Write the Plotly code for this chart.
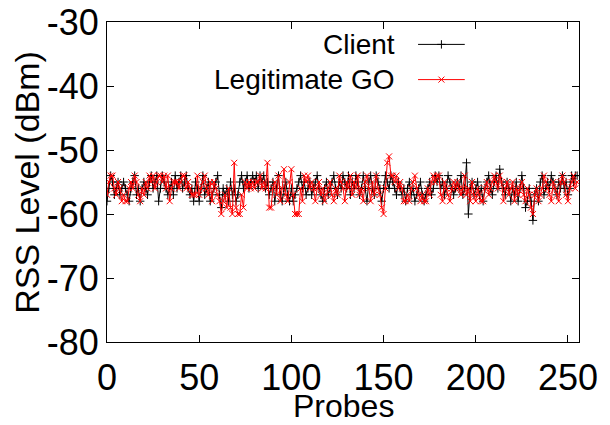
import plotly.graph_objects as go

probes = list(range(256))

client = [
    -58, -56, -54, -55, -57, -56, -55, -57, -56, -55,
    -56, -57, -58, -56, -55, -54, -57, -56, -58, -56,
    -55, -56, -57, -55, -54, -56, -55, -54, -58, -56,
    -54, -55, -56, -57, -56, -55, -57, -54, -56, -55,
    -54, -56, -55, -54, -56, -57, -56, -58, -55, -56,
    -58, -56, -54, -57, -56, -55, -58, -57, -56, -55,
    -54, -57, -59, -56, -57, -56, -58, -55, -57, -56,
    -58, -57, -55, -54, -56, -55, -54, -56, -55, -54,
    -55, -54, -56, -54, -55, -54, -56, -55, -57, -56,
    -55, -58, -56, -54, -57, -58, -56, -55, -57, -58,
    -56, -58, -57, -56, -55, -54, -56, -55, -57, -56,
    -55, -57, -56, -55, -54, -56, -57, -58, -56, -55,
    -57, -56, -55, -54, -56, -57, -55, -56, -54, -55,
    -56, -54, -57, -55, -56, -54, -55, -57, -56, -54,
    -56, -58, -55, -54, -56, -57, -54, -55, -56, -58,
    -56, -54, -55, -56, -54, -55, -56, -57, -55, -56,
    -57, -56, -58, -56, -55, -57, -56, -58, -57, -56,
    -55, -57, -58, -57, -56, -55, -57, -56, -54, -55,
    -54, -56, -55, -57, -56, -54, -55, -56, -57, -56,
    -55, -56, -54, -57, -56, -52, -60, -56, -55, -57,
    -56, -55, -57, -56, -58, -56, -55, -54, -56, -57,
    -55, -54, -56, -53, -55, -56, -57, -55, -56, -58,
    -56, -57, -55, -58, -56, -54, -56, -59, -58, -56,
    -58, -61, -57, -56, -58, -55, -54, -57, -56, -55,
    -56, -54, -55, -56, -57, -55, -56, -54, -56, -55,
    -57, -56, -54, -55, -54, -54,
]

legit_go = [
    -57, -55, -54, -54, -56, -57, -55, -56, -58, -57,
    -58, -58, -56, -55, -56, -54, -55, -57, -58, -56,
    -57, -55, -56, -54, -55, -54, -56, -55, -54, -54,
    -55, -54, -56, -54, -58, -56, -55, -55, -55, -56,
    -55, -54, -54, -56, -55, -56, -57, -57, -57, -54,
    -57, -56, -55, -54, -56, -57, -55, -58, -55, -56,
    -57, -58, -60, -58, -57, -59, -56, -59, -60, -52,
    -59, -60, -60, -57, -59, -55, -56, -55, -56, -55,
    -56, -55, -55, -54, -56, -55, -56, -52, -59, -59,
    -56, -55, -57, -54, -58, -56, -53, -57, -58, -55,
    -53, -57, -60, -60, -60, -56, -58, -54, -55, -54,
    -56, -55, -56, -58, -56, -55, -57, -56, -58, -57,
    -56, -55, -57, -58, -56, -57, -54, -55, -56, -58,
    -55, -56, -54, -57, -55, -56, -54, -57, -56, -58,
    -55, -54, -56, -58, -55, -57, -54, -56, -57, -59,
    -60, -56, -52, -51, -54, -54, -55, -54, -56, -55,
    -56, -58, -58, -57, -58, -56, -55, -54, -56, -57,
    -58, -57, -58, -58, -56, -57, -55, -54, -55, -54,
    -54, -57, -58, -55, -56, -57, -58, -56, -55, -56,
    -55, -56, -57, -56, -54, -57, -56, -58, -55, -57,
    -58, -56, -57, -58, -58, -56, -55, -57, -56, -55,
    -54, -55, -56, -54, -55, -58, -56, -55, -57, -56,
    -55, -58, -56, -57, -56, -55, -57, -58, -56, -57,
    -59, -60, -57, -56, -58, -57, -56, -54, -55, -56,
    -57, -58, -55, -56, -57, -58, -55, -54, -55, -57,
    -58, -56, -55, -54, -56, -55,
]

x_ticks = [0, 50, 100, 150, 200, 250]
y_ticks = [-80, -70, -60, -50, -40, -30]
y_tick_labels = ["-80", "-70", "-60", "-50", "-40", "-30"]

series_names = ["Client", "Legitimate GO"]
series_colors = ["black", "red"]
series_symbols = ["cross-thin", "x-thin"]

FONT = "Liberation Sans, Arial, Helvetica, sans-serif"

fig = go.Figure()
for name, ys, col, sym in zip(series_names, [client, legit_go], series_colors, series_symbols):
    fig.add_trace(go.Scatter(
        x=probes, y=ys, mode="lines+markers", name=name,
        line=dict(color=col, width=1),
        marker=dict(symbol=sym, size=6, color=col, line=dict(color=col, width=1)),
        showlegend=False,
    ))

# custom gnuplot-style legend (text left of sample) on hidden overlay axes
legend_y = [0.93, 0.82]
for name, col, sym, ly in zip(series_names, series_colors, series_symbols, legend_y):
    fig.add_trace(go.Scatter(
        x=[0.659, 0.758], y=[ly, ly], xaxis="x2", yaxis="y2", mode="lines",
        line=dict(color=col, width=1), showlegend=False, hoverinfo="skip",
    ))
    fig.add_trace(go.Scatter(
        x=[0.7085], y=[ly], xaxis="x2", yaxis="y2", mode="markers",
        marker=dict(symbol=sym, size=6, color=col, line=dict(color=col, width=1)),
        showlegend=False, hoverinfo="skip",
    ))
    fig.add_annotation(
        x=0.614, y=ly, xref="paper", yref="paper", text=name, showarrow=False,
        xanchor="right", yanchor="middle", font=dict(family=FONT, size=28, color="black"),
    )

# axis titles (gnuplot-style placement, close to / overlapping tick labels)
fig.add_annotation(
    x=-0.17, y=0.5, xref="paper", yref="paper", text="RSS Level (dBm)",
    textangle=-90, showarrow=False, xanchor="center", yanchor="middle",
    font=dict(family=FONT, size=34, color="black"),
)
fig.add_annotation(
    x=0.5, y=-0.2, xref="paper", yref="paper", text="Probes",
    showarrow=False, xanchor="center", yanchor="middle", borderpad=0,
    font=dict(family=FONT, size=32, color="black"),
)

axis_common = dict(
    showline=True, linecolor="black", linewidth=1, mirror="allticks",
    ticks="inside", ticklen=7, tickcolor="black", tickwidth=1,
    showgrid=False, zeroline=False, automargin=False,
    tickfont=dict(family=FONT, size=36, color="black"),
)

fig.update_layout(
    width=610, height=425,
    margin=dict(l=107, r=31, t=22, b=83),
    paper_bgcolor="white", plot_bgcolor="white",
    font=dict(family=FONT, color="black"),
    xaxis=dict(
        range=[0, 256], tickvals=x_ticks,
        ticklabelstandoff=4,
        **axis_common,
    ),
    yaxis=dict(
        range=[-80, -30], tickvals=y_ticks, ticktext=y_tick_labels,
        ticklabelstandoff=0,
        **axis_common,
    ),
    xaxis2=dict(range=[0, 1], overlaying="x", visible=False),
    yaxis2=dict(range=[0, 1], overlaying="y", visible=False),
)

fig.write_html("out.html", post_script="document.body.style.margin='0';",
               config={"displayModeBar": False})
